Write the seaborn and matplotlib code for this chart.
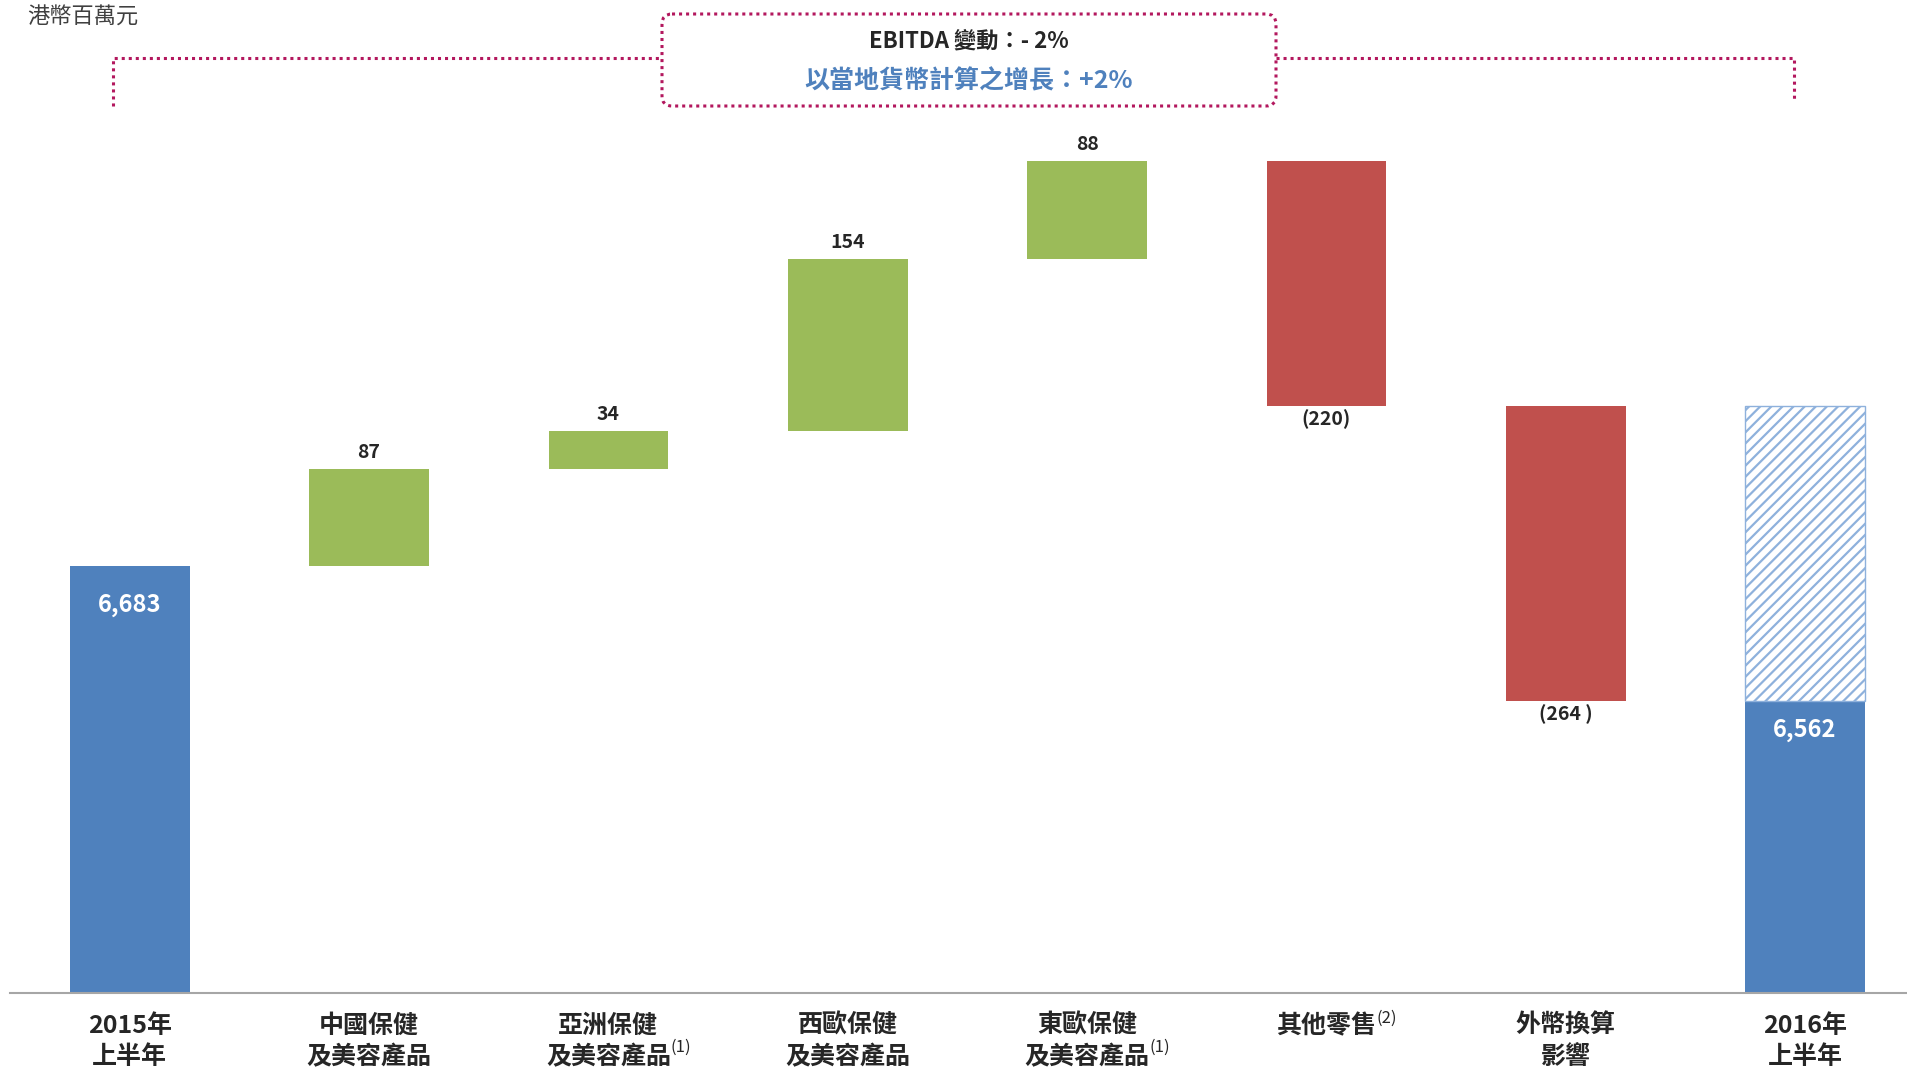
import pandas as pd
import seaborn as sns
import matplotlib.pyplot as plt
from matplotlib.patches import FancyBboxPatch

# Chart data
categories = ['2015年\n上半年', '中國保健\n及美容產品', '亞洲保健\n及美容產品', '西歐保健\n及美容產品',
              '東歐保健\n及美容產品', '其他零售', '外幣換算\n影響', '2016年\n上半年']
footnotes = ['', '', '(1)', '', '(1)', '(2)', '', '']
values = [6683, 87, 34, 154, 88, -220, -264, 6562]
value_labels = ['6,683', '87', '34', '154', '88', '(220)', '(264 )', '6,562']
bar_kind = ['total', 'up', 'up', 'up', 'up', 'down', 'down', 'total']
fx_impact = 264  # hatched part of the 2016 bar (growth at constant currency)

blue = '#4F81BD'
green = '#9BBB59'
red = '#C0504D'
hatch_blue = '#8EB1DC'
pink = '#B3185E'
kind_color = {'total': blue, 'up': green, 'down': red}

# waterfall: floating bars start where the previous one ended
bottoms, heights = [], []
running = 0
for v, k in zip(values, bar_kind):
    if k == 'total':
        bottoms.append(0)
        heights.append(v)
        running = v
    else:
        bottoms.append(min(running, running + v))
        heights.append(abs(v))
        running += v

df = pd.DataFrame({'category': categories, 'height': heights})

sns.set_style('white')
plt.rcParams['font.family'] = ['Liberation Sans Narrow', 'Noto Sans CJK TC', 'DejaVu Sans']
plt.rcParams['hatch.linewidth'] = 1.6

fig = plt.figure(figsize=(19.08, 10.74), dpi=100)
ax = fig.add_axes([10 / 1908, 81 / 1074, 1898 / 1908, 993 / 1074])

sns.barplot(data=df, x='category', y='height', bottom=bottoms, width=0.5,
            color=blue, saturation=1, ax=ax)
for patch, k in zip(ax.patches, bar_kind):
    patch.set_facecolor(kind_color[k])
    patch.set_edgecolor('none')

# hatched part on top of the 2016 bar
ax.bar(len(values) - 1, fx_impact, bottom=values[-1], width=0.5, facecolor='white',
       edgecolor=hatch_blue, hatch='///', linewidth=1.0)

ax.set_ylim(6300, 7190)
ax.set_xlim(-0.5, 7.43)
ax.set_xlabel('')
ax.set_ylabel('')
ax.set_yticks([])
sns.despine(ax=ax, left=True)
ax.spines['bottom'].set_color('#A6A6A6')
ax.spines['bottom'].set_linewidth(1.5)
ax.tick_params(axis='x', length=0, pad=15, labelsize=18)
for lab in ax.get_xticklabels():
    lab.set_fontweight('bold')
    lab.set_linespacing(1.36)

# footnote superscripts next to the tick labels
for lab, note in zip(ax.get_xticklabels(), footnotes):
    if note:
        ypos = 1.0 if '\n' not in lab.get_text() else 0.47
        ax.annotate(note, xy=(1.0, ypos), xycoords=lab, xytext=(0, 3),
                    textcoords='offset points', ha='left', va='top', fontsize=12)

# value labels
total_drop = {0: 28, len(values) - 1: 21}
for i, (lbl, k) in enumerate(zip(value_labels, bar_kind)):
    top = bottoms[i] + heights[i]
    if k == 'up':
        ax.annotate(lbl, (i, top), xytext=(0, 11.5), textcoords='offset points',
                    ha='center', va='center', fontsize=14, fontweight='bold')
    elif k == 'down':
        ax.annotate(lbl, (i, bottoms[i]), xytext=(0, -9.5), textcoords='offset points',
                    ha='center', va='center', fontsize=14, fontweight='semibold')
    else:
        ax.annotate(lbl, (i, top), xytext=(0, -total_drop[i]), textcoords='offset points',
                    ha='center', va='center', fontsize=17, fontweight='bold', color='white')

# overlay in pixel coordinates for the bracket and the header
ov = fig.add_axes([0, 0, 1, 1])
ov.set_xlim(0, 1908)
ov.set_ylim(1074, 0)
ov.axis('off')

dots = dict(color=pink, lw=2.2, linestyle=(0, (1, 1.3)), dash_capstyle='butt')
ov.plot([113, 113, 662], [106, 58, 58], **dots)
ov.plot([1276, 1794, 1794], [58, 58, 102], **dots)
ov.add_patch(FancyBboxPatch((662, 14), 614, 92, boxstyle='round,pad=0,rounding_size=10',
                            fill=False, edgecolor=pink, lw=2.2, linestyle=(0, (1, 1.3))))

ov.text(969, 41, 'EBITDA 變動：- 2%', ha='center', va='center', fontsize=16, fontweight='bold')
ov.text(969, 81, '以當地貨幣計算之增長：+2%', ha='center', va='center', fontsize=18,
        fontweight='bold', color=blue)
ov.text(27, 17, '港幣百萬元', ha='left', va='center', fontsize=16, color='#404040')

fig.savefig('out.png', dpi=100)
